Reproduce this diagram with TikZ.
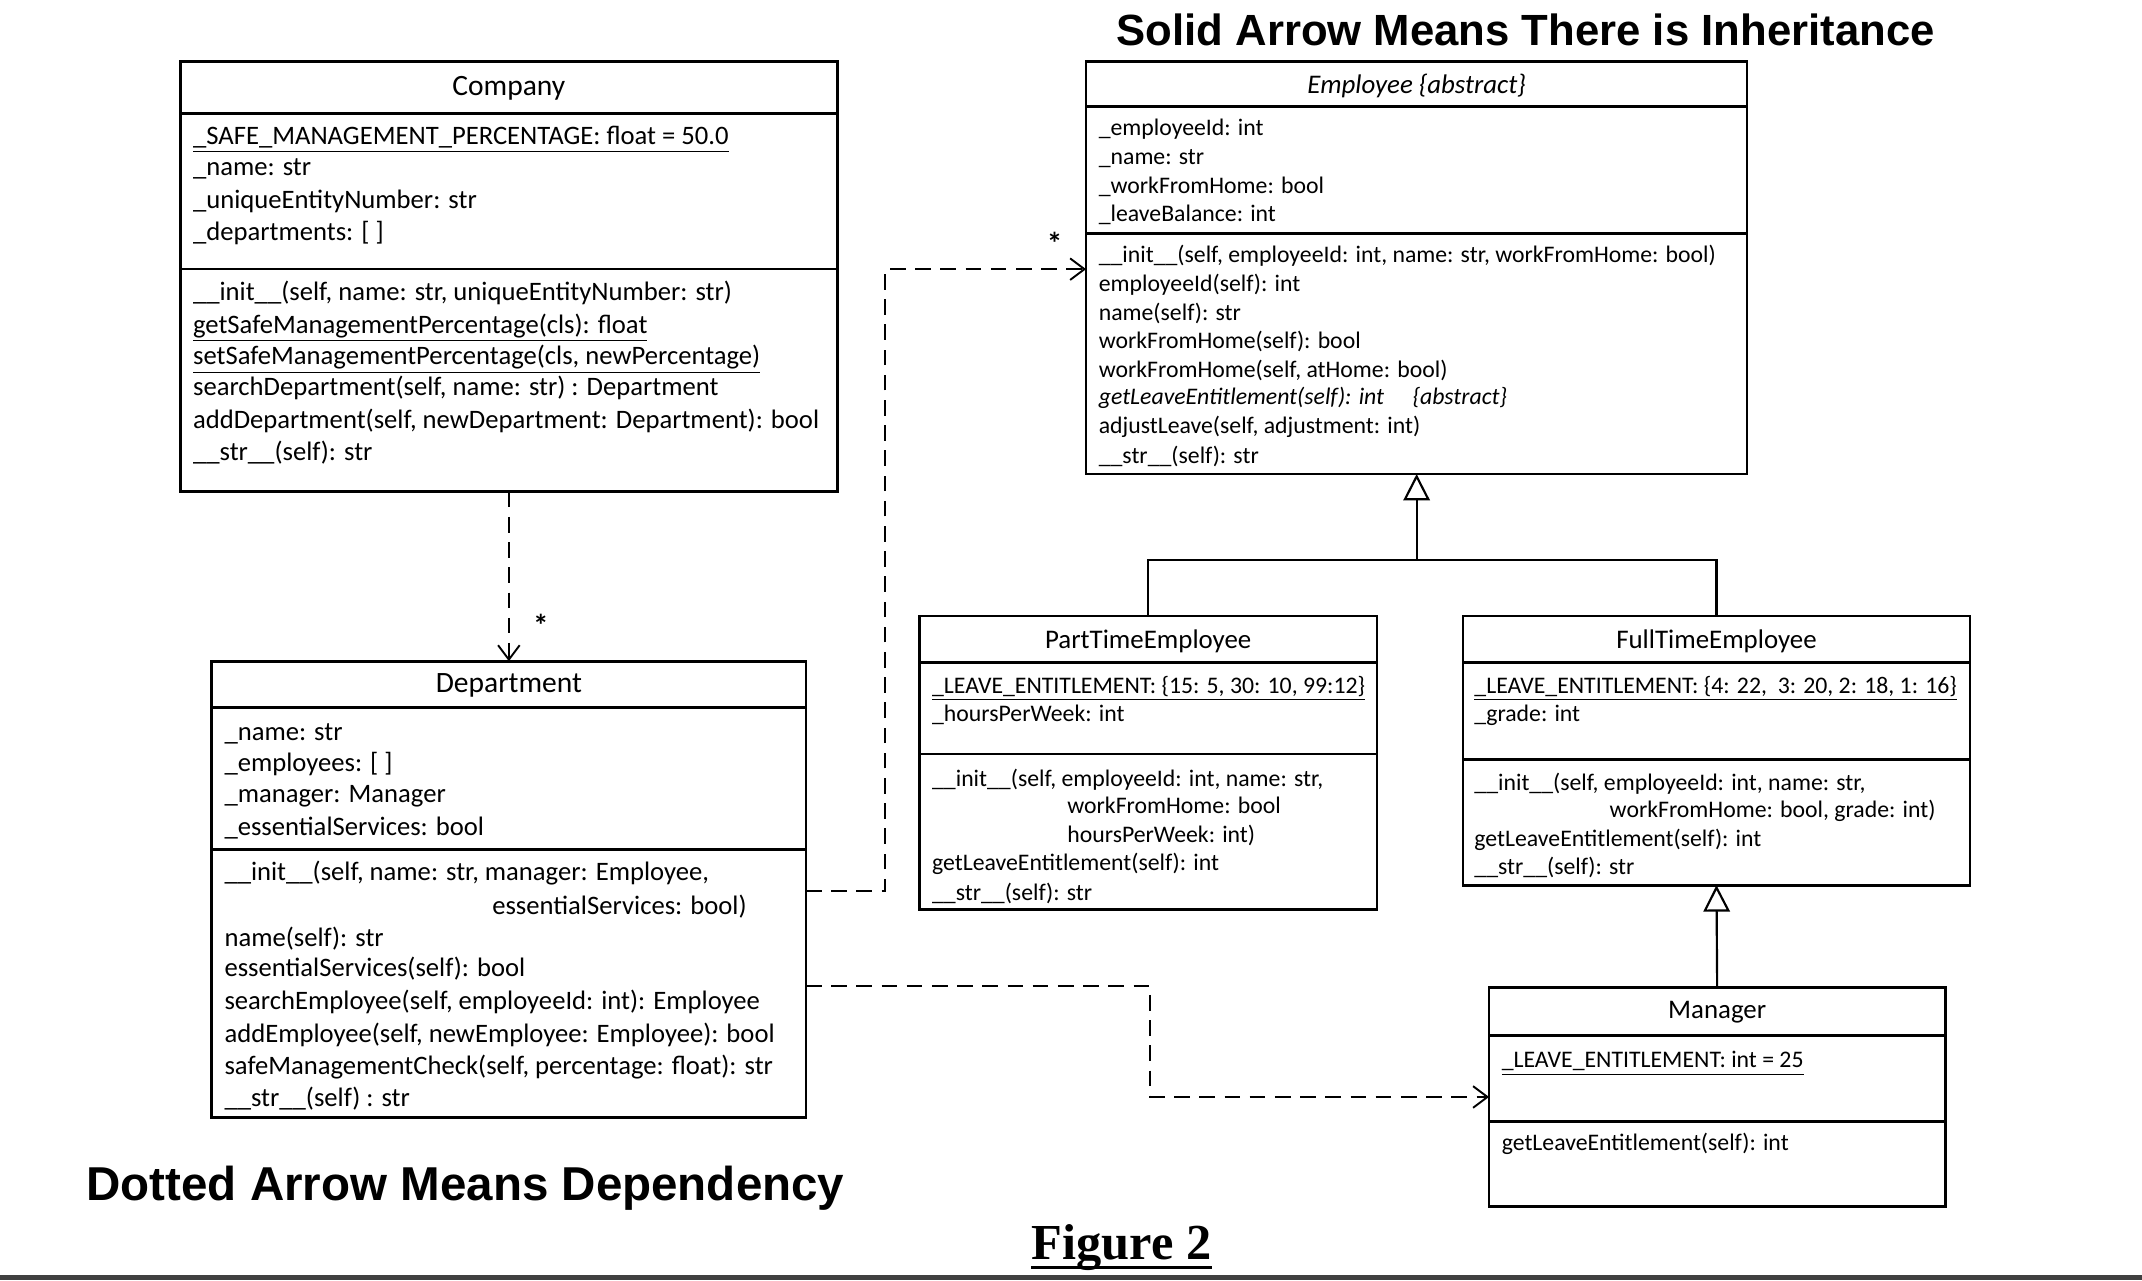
\documentclass[tikz,border=0pt]{standalone}
\usepackage{fontspec}
\usetikzlibrary{arrows.meta,calc}
\newfontfamily\calib{Carlito}
\newfontfamily\arialf{Liberation Sans}
\newfontfamily\timesf{Liberation Serif}
\newcommand\cfBig{\calib\fontsize{11.1pt}{13pt}\selectfont}
\newcommand\cfBigH{\calib\fontsize{12.3pt}{14pt}\selectfont}
\newcommand\cfSmall{\calib\fontsize{9.9pt}{12pt}\selectfont}
\newcommand\cfSmallH{\calib\fontsize{11.2pt}{13pt}\selectfont}
\tikzset{
  cls/.style={draw, line width=1.1pt, outer sep=0pt, inner sep=0pt},
  sepline/.style={line width=1.1pt},
  bt/.style={anchor=mid west, inner sep=0pt, yshift=-1.7pt, font=\cfBig},
  st/.style={anchor=mid west, inner sep=0pt, yshift=-1.5pt, font=\cfSmall},
  bh/.style={anchor=mid, inner sep=0pt, yshift=-1.7pt, font=\cfBigH},
  sh/.style={anchor=mid, inner sep=0pt, yshift=-1.5pt, font=\cfSmallH},
  dep/.style={dash pattern=on 6.5pt off 4pt, line width=0.8pt, -{Straight Barb[length=6pt,width=9pt]}},
  inh/.style={line width=0.9pt, -{Triangle[open, length=11pt, width=11pt, fill=white]}},
  gen/.style={line width=0.9pt},
  mult/.style={font=\calib\bfseries\fontsize{13pt}{15pt}\selectfont, inner sep=0pt},
  title/.style={anchor=base west, inner sep=0pt, font=\arialf\bfseries\fontsize{18.2pt}{20pt}\selectfont},
}
\begin{document}
\begin{tikzpicture}[x=0.02cm,y=-0.02cm]
\fill[white] (0,0) rectangle (1568,937);
\useasboundingbox (0,0) rectangle (1568,937);

% ---------------- titles
\node[title] (t1) at (817,33) {Solid Arrow Means There is Inheritance};
\node[title, font=\arialf\bfseries\fontsize{19.8pt}{22pt}\selectfont] (t2) at (63,879) {Dotted Arrow Means Dependency};
\node[anchor=base west, inner sep=0pt, font=\timesf\bfseries\fontsize{21pt}{23pt}\selectfont] (t3) at (755,922) {Figure 2};
\draw[line width=1.2pt] ($(t3.base west)+(0,6)$) -- ($(t3.base east)+(0,6)$);
\draw[line width=2.2pt, color=black!75] (0,935) -- (1568,935);

% ---------------- Company
\node[cls, minimum width=9.62cm, minimum height=6.30cm] (company) at (372.5,202.5) {};
\draw[sepline] ($(company.north west)+(0,38)$) -- ($(company.north east)+(0,38)$);
\draw[sepline] ($(company.north west)+(0,152)$) -- ($(company.north east)+(0,152)$);
\node[bh] (ch) at (372.5,63) {Company};
\node[bt] (ca1) at (141,99) {\underline{\_SAFE\_MANAGEMENT\_PERCENTAGE: float = 50.0}};
\node[bt] (ca2) at (141,122) {\_name: str};
\node[bt] (ca3) at (141,146) {\_uniqueEntityNumber: str};
\node[bt] (ca4) at (141,169) {\_departments: [ ]};
\node[bt] (cm1) at (141,213) {\_\_init\_\_(self, name: str, uniqueEntityNumber: str)};
\node[bt] (cm2) at (141,237) {\underline{getSafeManagementPercentage(cls): float}};
\node[bt] (cm3) at (141,260) {\underline{setSafeManagementPercentage(cls, newPercentage)}};
\node[bt] (cm4) at (141,283) {searchDepartment(self, name: str) : Department};
\node[bt] (cm5) at (141,307) {addDepartment(self, newDepartment: Department): bool};
\node[bt] (cm6) at (141,330) {\_\_str\_\_(self): str};

% ---------------- Employee
\node[cls, minimum width=9.68cm, minimum height=6.04cm] (emp) at (1037,196) {};
\draw[sepline] ($(emp.north west)+(0,33)$) -- ($(emp.north east)+(0,33)$);
\draw[sepline] ($(emp.north west)+(0,126)$) -- ($(emp.north east)+(0,126)$);
\node[sh] (eh) at (1037,62) {\textit{Employee \{abstract\}}};
\node[st] (ea1) at (804,93) {\_employeeId: int};
\node[st] (ea2) at (804,114) {\_name: str};
\node[st] (ea3) at (804,135) {\_workFromHome: bool};
\node[st] (ea4) at (804,156) {\_leaveBalance: int};
\node[st] (em1) at (804,186) {\_\_init\_\_(self, employeeId: int, name: str, workFromHome: bool)};
\node[st] (em2) at (804,207) {employeeId(self): int};
\node[st] (em3) at (804,228) {name(self): str};
\node[st] (em4) at (804,249) {workFromHome(self): bool};
\node[st] (em5) at (804,270) {workFromHome(self, atHome: bool)};
\node[st] (em6) at (804,290) {\textit{getLeaveEntitlement(self): int\hspace{1.2em}\{abstract\}}};
\node[st] (em7) at (804,311) {adjustLeave(self, adjustment: int)};
\node[st] (em8) at (804,333) {\_\_str\_\_(self): str};

% ---------------- Department
\node[cls, minimum width=8.70cm, minimum height=6.68cm] (dept) at (372.5,651) {};
\draw[sepline] ($(dept.north west)+(0,34)$) -- ($(dept.north east)+(0,34)$);
\draw[sepline] ($(dept.north west)+(0,138)$) -- ($(dept.north east)+(0,138)$);
\node[bh] (dh) at (372.5,500) {Department};
\node[bt] (da1) at (164,535) {\_name: str};
\node[bt] (da2) at (164,558) {\_employees: [ ]};
\node[bt] (da3) at (164,581) {\_manager: Manager};
\node[bt] (da4) at (164,605) {\_essentialServices: bool};
\node[bt] (dm1) at (164,638) {\_\_init\_\_(self, name: str, manager: Employee,};
\node[bt] (dm1b) at (360,663) {essentialServices: bool)};
\node[bt] (dm2) at (164,686) {name(self): str};
\node[bt] (dm3) at (164,708) {essentialServices(self): bool};
\node[bt] (dm4) at (164,732) {searchEmployee(self, employeeId: int): Employee};
\node[bt] (dm5) at (164,756) {addEmployee(self, newEmployee: Employee): bool};
\node[bt] (dm6) at (164,780) {safeManagementCheck(self, percentage: float): str};
\node[bt] (dm7) at (164,803) {\_\_str\_\_(self) : str};

% ---------------- PartTimeEmployee
\node[cls, minimum width=6.70cm, minimum height=4.30cm] (pt) at (840.5,558.5) {};
\draw[sepline] ($(pt.north west)+(0,34)$) -- ($(pt.north east)+(0,34)$);
\draw[sepline] ($(pt.north west)+(0,101)$) -- ($(pt.north east)+(0,101)$);
\node[sh] (ph) at (840.5,468) {PartTimeEmployee};
\node[st] (pa1) at (682,501) {\underline{\_LEAVE\_ENTITLEMENT: \{15: 5, 30: 10, 99:12\}}};
\node[st] (pa2) at (682,522) {\_hoursPerWeek: int};
\node[st] (pm1) at (682,569) {\_\_init\_\_(self, employeeId: int, name: str,};
\node[st] (pm1b) at (781,589) {workFromHome: bool};
\node[st] (pm1c) at (781,610) {hoursPerWeek: int)};
\node[st] (pm2) at (682,631) {getLeaveEntitlement(self): int};
\node[st] (pm3) at (682,653) {\_\_str\_\_(self): str};

% ---------------- FullTimeEmployee
\node[cls, minimum width=7.42cm, minimum height=3.94cm] (ft) at (1256.5,549.5) {};
\draw[sepline] ($(ft.north west)+(0,34)$) -- ($(ft.north east)+(0,34)$);
\draw[sepline] ($(ft.north west)+(0,105)$) -- ($(ft.north east)+(0,105)$);
\node[sh] (fh) at (1256.5,468) {FullTimeEmployee};
\node[st] (fa1) at (1079,501) {\underline{\_LEAVE\_ENTITLEMENT: \{4: 22,\ \ 3: 20, 2: 18, 1: 16\}}};
\node[st] (fa2) at (1079,522) {\_grade: int};
\node[st] (fm1) at (1079,572) {\_\_init\_\_(self, employeeId: int, name: str,};
\node[st] (fm1b) at (1178,592) {workFromHome: bool, grade: int)};
\node[st] (fm2) at (1079,613) {getLeaveEntitlement(self): int};
\node[st] (fm3) at (1079,634) {\_\_str\_\_(self): str};

% ---------------- Manager
\node[cls, minimum width=6.68cm, minimum height=3.20cm] (mgr) at (1257,803) {};
\draw[sepline] ($(mgr.north west)+(0,35)$) -- ($(mgr.north east)+(0,35)$);
\draw[sepline] ($(mgr.north west)+(0,98)$) -- ($(mgr.north east)+(0,98)$);
\node[sh] (mh) at (1257,739) {Manager};
\node[st] (ma1) at (1099,775) {\underline{\_LEAVE\_ENTITLEMENT: int = 25}};
\node[st] (mm1) at (1099,836) {getLeaveEntitlement(self): int};

% ---------------- connectors
\draw[dep] (company.south) -- (dept.north);
\node[mult] (m1) at (396,458) {*};
\draw[dep] ($(dept.north east)+(0,168)$) -- ++(58,0) |- ($(emp.north west)+(0,152)$);
\node[mult] (m2) at (772,178) {*};
\draw[dep] ($(dept.north east)+(0,238)$) -- ++(252,0) |- ($(mgr.north west)+(0,80)$);

\coordinate (junc) at ($(emp.south)+(0,63)$);
\draw[inh] (junc) -- (emp.south);
\draw[gen] (pt.north) |- (junc) -| (ft.north);
\draw[inh] (mgr.north) -- (ft.south);
\end{tikzpicture}
\end{document}
